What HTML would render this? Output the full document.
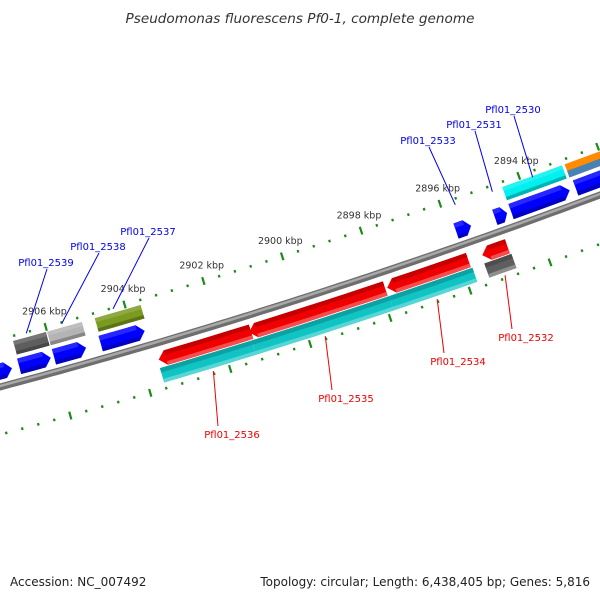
<!DOCTYPE html>
<html><head><meta charset="utf-8"><style>
html,body{margin:0;padding:0;background:#fff}
svg{display:block}
</style></head><body>
<svg id="map" width="600" height="600" viewBox="0 0 600 600" xmlns="http://www.w3.org/2000/svg">
<text x="300" y="23" text-anchor="middle" font-family="DejaVu Sans, Liberation Sans, sans-serif" font-style="italic" font-size="13.6" fill="#333">Pseudomonas fluorescens Pf0-1, complete genome</text>
<text x="10" y="586" font-family="DejaVu Sans, Liberation Sans, sans-serif" font-size="12" fill="#222">Accession: NC_007492</text>
<text x="590" y="586" text-anchor="end" font-family="DejaVu Sans, Liberation Sans, sans-serif" font-size="12" fill="#222">Topology: circular; Length: 6,438,405 bp; Genes: 5,816</text>
<g id="ticks"></g><g id="backbone"></g><g id="genes"></g><g id="labels"></g>
</svg>
<script>
// data
const tickLabels = [2906, 2904, 2902, 2900, 2898, 2896, 2894];
const geneNames = ["lead-blue","Pfl01_2539","Pfl01_2538","Pfl01_2537","Pfl01_2533","Pfl01_2531","Pfl01_2530","trail-blue",
  "Pfl01_2539-box","Pfl01_2538-box","Pfl01_2537-box","Pfl01_2530-box","trail-orange",
  "Pfl01_2536","Pfl01_2535","Pfl01_2534","Pfl01_2532",
  "Pfl01_2536-box","Pfl01_2535-box","Pfl01_2534-box","Pfl01_2532-box"];
const geneLeftKbp = [2908.22,2906.88,2906.00,2904.82,2895.85,2894.87,2894.46,2892.83,
  2906.86,2906.00,2904.79,2894.46,2892.88,
  2903.58,2901.31,2897.84,2895.45,
  2903.61,2901.31,2897.86,2895.47];
const geneRightKbp = [2907.06,2906.08,2905.19,2903.71,2895.47,2894.56,2892.98,2891.84,
  2906.03,2905.12,2903.63,2892.95,2891.84,
  2901.26,2897.89,2895.80,2894.82,
  2901.31,2897.86,2895.77,2894.79];
const geneLane = [0,0,0,0,0,0,0,0, 1,1,1,1,1, 2,2,2,2, 3,3,3,3];
const geneColors = ["#0000ff","#0000ff","#0000ff","#0000ff","#0000ff","#0000ff","#0000ff","#0000ff",
  "#5e5e5e","#b4b4b4","#7a9a20","#00f0f0","#ff8c00",
  "#f00000","#f00000","#f00000","#f00000",
  "#10c4c4","#10c4c4","#10c4c4","#5e5e5e"];
const geneShape = ["R","R","R","R","R","R","R","R", "B","B","B","B","B", "L","L","L","L", "B","B","B","B"];
const labelNames = ["Pfl01_2539","Pfl01_2538","Pfl01_2537","Pfl01_2533","Pfl01_2531","Pfl01_2530","Pfl01_2536","Pfl01_2535","Pfl01_2534","Pfl01_2532"];
const labelKbp = [2906.5,2905.6,2904.3,2895.66,2894.72,2893.7,2902.4,2899.6,2896.8,2895.1];
const labelColors = ["#0000ee","#0000ee","#0000ee","#0000ee","#0000ee","#0000ee","#ee0000","#ee0000","#ee0000","#ee0000"];
const labelXY = [[46,266],[98,250],[148,235],[428,144],[474,128],[513,113],[232,438],[346,402],[458,365],[526,341]];

const NS="http://www.w3.org/2000/svg";
const lanes=[[7,23],[27,41],[-9,-24],[-25,-40]];
function kx(k){return 58+(2906-k)*39.7;}
function by(x){return 387-0.2667*x-0.0000889*x*x;}
function pt(xb,d){const s=-0.2667-0.0001778*xb;const L=Math.sqrt(1+s*s);return [xb+d*s/L, by(xb)-d/L];}
function mk(tag,attrs,parent){const e=document.createElementNS(NS,tag);for(const k in attrs)e.setAttribute(k,attrs[k]);parent.appendChild(e);return e;}
function edge(x1,x2,d){const r=[];const n=Math.max(2,Math.ceil(Math.abs(x2-x1)/20));for(let i=0;i<=n;i++){r.push(pt(x1+(x2-x1)*i/n,d));}return r;}
function P(a){return a.map(p=>p[0].toFixed(1)+","+p[1].toFixed(1)).join(" ");}

// backbone
const bb=document.getElementById('backbone');
let bpts=[];for(let x=-10;x<=610;x+=10)bpts.push([x,by(x)]);
const bpath="M"+bpts.map(p=>p[0]+","+p[1].toFixed(1)).join(" L");
const b1=mk('path',{d:bpath,stroke:'#6e6e6e',"stroke-width":7,fill:'none'},bb);


mk('path',{d:bpath,stroke:'#a8a8a8',"stroke-width":2.5,fill:'none',transform:'translate(0,-1)'},bb);

// ticks
const tg=document.getElementById('ticks');
for(let i=0;i<=50;i++){
  const k=2910-i*0.4; const xb=kx(k);
  const big=Math.abs(Math.round(k/2)*2-k)<0.01;
  [46,-46].forEach(d=>{
    const len=big?4:1.3;
    const a=pt(xb,d+len),b=pt(xb,d-len);
    const t=mk('line',{x1:a[0],y1:a[1],x2:b[0],y2:b[1],stroke:'#1a8a1a',"stroke-width":2.2},tg);
    
    
  });
}
tickLabels.forEach(k=>{
  const p=pt(kx(k),62);
  const t=mk('text',{x:p[0]+3,y:p[1]+3,"text-anchor":"middle","font-family":"DejaVu Sans, Liberation Sans, sans-serif","font-size":"9.5",fill:'#333'},tg);
  t.textContent=k+" kbp";
  
  
});

// genes
const gg=document.getElementById('genes');
function shade(c,f){const n=parseInt(c.slice(1),16);let r=n>>16,g=(n>>8)&255,b=n&255;
  if(f<0){r*=1+f;g*=1+f;b*=1+f;}else{r+=(255-r)*f;g+=(255-g)*f;b+=(255-b)*f;}
  return "rgb("+[r,g,b].map(v=>Math.round(v)).join(",")+")";}
geneNames.forEach((nm,i)=>{
  const x1=kx(geneLeftKbp[i]),x2=kx(geneRightKbp[i]);
  const [d1,d2]=lanes[geneLane[i]]; const top=Math.max(d1,d2),bot=Math.min(d1,d2),mid=(top+bot)/2;
  const h=Math.min(7,(x2-x1)*0.4); const sh=geneShape[i]; const col=geneColors[i];
  let poly;
  if(sh==="R"){poly=edge(x1,x2-h,top).concat([pt(x2,mid)],edge(x2-h,x1,bot));}
  else if(sh==="L"){poly=edge(x1+h,x2,top).concat(edge(x2,x1+h,bot),[pt(x1,mid)]);}
  else poly=edge(x1,x2,top).concat(edge(x2,x1,bot));
  const g=mk('g',{},gg);
  
  
  mk('polygon',{points:P(poly),fill:col},g);
  const a=sh==="L"?x1+h:x1, b=sh==="R"?x2-h:x2;
  const t1=top-(top-bot)*0.3;
  if(nm==="trail-orange"){
    mk('polygon',{points:P(edge(a,b,mid).concat(edge(b,a,bot))),fill:'#4682b4'},g);
  } else {
    mk('polygon',{points:P(edge(a,b,top).concat(edge(b,a,t1))),fill:shade(col,geneLane[i]>=2?-0.18:0.15)},g);
    const b1=bot+(top-bot)*0.25;
    mk('polygon',{points:P(edge(a,b,b1).concat(edge(b,a,bot))),fill:shade(col,geneLane[i]>=2?0.3:-0.25)},g);
  }
});

// labels
const lg=document.getElementById('labels');
labelNames.forEach((nm,i)=>{
  const [tx,ty]=labelXY[i]; const up=i<6;
  let anchor=pt(kx(labelKbp[i]), up? (i<3?45:40) : -43);
  const l=mk('line',{x1:tx+(up?1:-14),y1:up?ty+3:ty-12,x2:anchor[0],y2:anchor[1],stroke:labelColors[i],"stroke-width":1},lg);
  
  
  const t=mk('text',{x:tx,y:ty,"text-anchor":"middle","font-family":"DejaVu Sans, Liberation Sans, sans-serif","font-size":"10",fill:labelColors[i]},lg);
  t.textContent=nm;
  
  
});
</script>
</body></html>
